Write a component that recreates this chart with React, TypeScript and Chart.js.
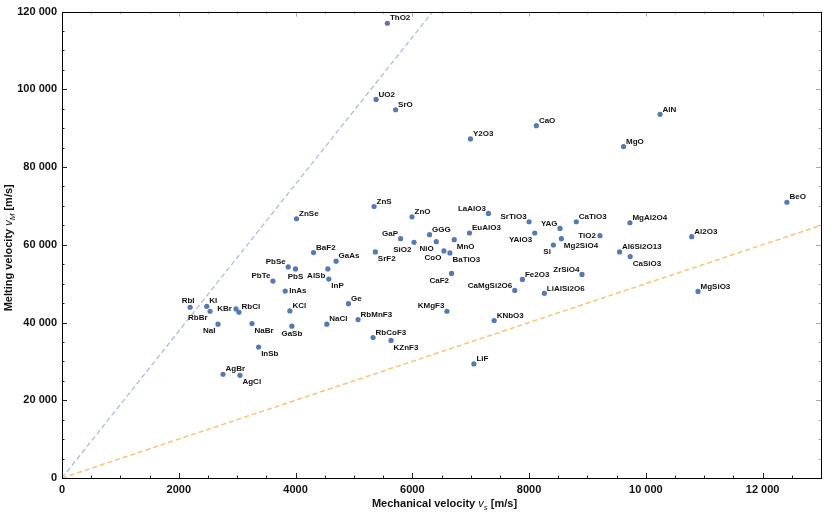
import { useEffect, useRef } from 'react';
import { Chart, registerables } from 'chart.js';
Chart.register(...registerables);

const names = ['ThO2','UO2','SrO','Y2O3','CaO','MgO','AlN','BeO','ZnSe','ZnS','ZnO','LaAlO3','SrTiO3','CaTiO3','MgAl2O4','YAG','EuAlO3','YAlO3','GGG','TiO2','Al2O3','GaP','Mg2SiO4','MnO','NiO','SiO2','Si','CoO','SrF2','Al6Si2O13','BaF2','BaTiO3','CaSiO3','GaAs','PbSe','PbS','AlSb','CaF2','ZrSiO4','InP','Fe2O3','PbTe','CaMgSi2O6','InAs','MgSiO3','LiAlSi2O6','Ge','KI','RbI','KBr','KCl','RbBr','KMgF3','RbCl','RbMnF3','KNbO3','NaBr','NaI','NaCl','GaSb','RbCoF3','KZnF3','InSb','LiF','AgBr','AgCl'];
const vs = [5573,5379,5714,6996,8125,9618,10244,12416,4017,5345,5995,7304,8000,8809,9727,8530,6980,8097,6296,9214,10786,5800,8553,6718,6410,6029,8416,6541,5367,9550,4308,6644,9732,4695,3875,4000,4553,6672,8906,4570,7886,3613,7755,3823,10894,8262,4906,2479,2194,2980,3903,2536,6593,3031,5071,7402,3254,2672,4536,3937,5328,5636,3368,7055,2758,3048];
const vm = [117000,97400,94750,87250,90650,85280,93570,70950,66700,69850,67200,68060,65930,65930,65670,64220,63030,63030,62600,62350,62090,61580,61580,61330,60800,60640,59950,58420,58160,58160,58000,57910,56980,55780,54320,53800,53800,52630,52370,51170,51090,50660,48270,48100,48000,47510,44850,44180,43930,43500,42980,42900,42900,42650,40760,40500,39740,39580,39580,39060,36150,35390,33700,29350,26690,26430];
const labelPos = ['ur','ur','ur','ur','ur','ur','ur','ur','ur','ur','ur','ul','ul','ur','ur','ul','ur','dl','ur','l','ur','ul','dr','dr','dl','dl','dl','dl','dr','ur','ur','dr','dr','ur','ul','b','dl','dl','ul','dr','ur','ul','ul','r','ur','ur','ur','ur','t','l','ur','dl','ul','ur','ur','ur','dr','dl','ur','b','ur','dr','dr','ur','ur','dr'];

const xTickValues = [0, 2000, 4000, 6000, 8000, 10000, 12000];
const yTickValues = [0, 20000, 40000, 60000, 80000, 100000, 120000];

const blueSlope = 18.9;
const orangeSlope = 5;
const xMax = 13000;
const yMax = 120000;
const xMajor = 2000;
const xMinor = 500;
const yMajor = 20000;
const yMinor = 5000;

function fmt(v: number): string {
  if (v >= 10000) {
    const s = String(v);
    return s.slice(0, s.length - 3) + ' ' + s.slice(s.length - 3);
  }
  return String(v);
}

const FONT = "'Liberation Sans', Arial, sans-serif";

const labelPlugin = {
  id: 'pointLabels',
  afterDatasetsDraw(chart: any) {
    const ctx = chart.ctx;
    const meta = chart.getDatasetMeta(0);
    ctx.save();
    ctx.font = `bold 8px ${FONT}`;
    ctx.fillStyle = '#111';
    meta.data.forEach((el: any, i: number) => {
      const x = el.x, y = el.y;
      const p = labelPos[i];
      const t = names[i];
      ctx.textBaseline = 'middle';
      if (p === 'ur') { ctx.textAlign = 'left'; ctx.fillText(t, x + 2.5, y - 5); }
      else if (p === 'ul') { ctx.textAlign = 'right'; ctx.fillText(t, x - 2.5, y - 5); }
      else if (p === 'dr') { ctx.textAlign = 'left'; ctx.fillText(t, x + 2.5, y + 7); }
      else if (p === 'dl') { ctx.textAlign = 'right'; ctx.fillText(t, x - 2.5, y + 7); }
      else if (p === 'l') { ctx.textAlign = 'right'; ctx.fillText(t, x - 4, y); }
      else if (p === 'r') { ctx.textAlign = 'left'; ctx.fillText(t, x + 4, y); }
      else if (p === 'b') { ctx.textAlign = 'center'; ctx.fillText(t, x, y + 8); }
      else if (p === 't') { ctx.textAlign = 'center'; ctx.fillText(t, x - 2, y - 6); }
    });
    ctx.restore();
  },
};

const framePlugin = {
  id: 'frame',
  afterDraw(chart: any) {
    const ctx = chart.ctx;
    const { left, right, top, bottom } = chart.chartArea;
    const xs = chart.scales.x, ys = chart.scales.y;
    ctx.save();
    ctx.lineWidth = 1;
    for (let v = 0; v <= xMax; v += xMinor) {
      const px = Math.round(xs.getPixelForValue(v)) + 0.5;
      const len = v % xMajor === 0 ? 5 : 2.5;
      ctx.strokeStyle = '#222';
      ctx.beginPath(); ctx.moveTo(px, bottom); ctx.lineTo(px, bottom - len); ctx.stroke();
      ctx.strokeStyle = '#aaa';
      ctx.beginPath(); ctx.moveTo(px, top); ctx.lineTo(px, top + len); ctx.stroke();
    }
    for (let v = 0; v <= yMax; v += yMinor) {
      const py = Math.round(ys.getPixelForValue(v)) + 0.5;
      const len = v % yMajor === 0 ? 5 : 2.5;
      ctx.strokeStyle = '#222';
      ctx.beginPath(); ctx.moveTo(left, py); ctx.lineTo(left + len, py); ctx.stroke();
      ctx.strokeStyle = '#aaa';
      ctx.beginPath(); ctx.moveTo(right, py); ctx.lineTo(right - len, py); ctx.stroke();
    }
    ctx.strokeStyle = '#000';
    ctx.strokeRect(Math.round(left) + 0.5, Math.round(top) + 0.5, Math.round(right - left), Math.round(bottom - top));

    ctx.fillStyle = '#111';
    ctx.textBaseline = 'alphabetic';
    const drawTitle = (parts: { t: string; f: string; dy: number }[], cx: number, cy: number) => {
      let w = 0;
      parts.forEach((p) => { ctx.font = p.f; w += ctx.measureText(p.t).width; });
      let x = cx - w / 2;
      ctx.textAlign = 'left';
      parts.forEach((p) => { ctx.font = p.f; ctx.fillText(p.t, x, cy + p.dy); x += ctx.measureText(p.t).width; });
    };
    const normal = `bold 11px ${FONT}`;
    const ital = `italic 11px ${FONT}`;
    const sub = `italic 8px ${FONT}`;
    drawTitle([
      { t: 'Mechanical velocity ', f: normal, dy: 0 },
      { t: 'v', f: ital, dy: 0 },
      { t: 's', f: sub, dy: 2.5 },
      { t: ' [m/s]', f: normal, dy: 0 },
    ], (left + right) / 2 + 3, 507);
    ctx.save();
    ctx.translate(12, (top + bottom) / 2 + 3);
    ctx.rotate(-Math.PI / 2);
    drawTitle([
      { t: 'Melting velocity ', f: normal, dy: 0 },
      { t: 'v', f: ital, dy: 0 },
      { t: 'M', f: sub, dy: 2.5 },
      { t: ' [m/s]', f: normal, dy: 0 },
    ], 0, 0);
    ctx.restore();
    ctx.restore();
  },
};

export default function App() {
  const ref = useRef<HTMLCanvasElement | null>(null);
  useEffect(() => {
    if (!ref.current) return;
    const points = vs.map((x, i) => ({ x, y: vm[i] }));
    const blueEnd = yMax / blueSlope;
    const chart = new Chart(ref.current, {
      type: 'scatter',
      data: {
        datasets: [
          {
            data: points,
            backgroundColor: '#5479b3',
            borderWidth: 0,
            pointRadius: 2.6,
          },
          {
            data: [{ x: 0, y: 0 }, { x: blueEnd, y: blueEnd * blueSlope }],
            showLine: true,
            borderColor: '#aec2e2',
            borderWidth: 1.4,
            borderDash: [5, 3],
            pointRadius: 0,
          },
          {
            data: [{ x: 0, y: 0 }, { x: xMax, y: xMax * orangeSlope }],
            showLine: true,
            borderColor: '#f5c87e',
            borderWidth: 1.6,
            borderDash: [5, 3],
            pointRadius: 0,
          },
        ],
      },
      options: {
        responsive: false,
        animation: false,
        layout: { padding: { top: 9, right: 9, left: 0, bottom: 0 } },
        plugins: { legend: { display: false }, tooltip: { enabled: false } },
        scales: {
          x: {
            type: 'linear',
            min: 0,
            max: xMax,
            afterFit: (s: any) => { s.height = 36; },
            afterBuildTicks: (s: any) => { s.ticks = xTickValues.map((v) => ({ value: v })); },
            border: { display: false },
            grid: { display: false, drawTicks: false },
            ticks: {
              autoSkip: false,
              maxRotation: 0,
              minRotation: 0,
              padding: 5,
              color: '#111',
              font: { family: FONT, size: 11, weight: 'bold' },
              callback: (v: any) => fmt(Number(v)),
            },
          },
          y: {
            type: 'linear',
            min: 0,
            max: yMax,
            afterFit: (s: any) => { s.width = 62; },
            afterBuildTicks: (s: any) => { s.ticks = yTickValues.map((v) => ({ value: v })); },
            border: { display: false },
            grid: { display: false, drawTicks: false },
            ticks: {
              autoSkip: false,
              padding: 5,
              color: '#111',
              font: { family: FONT, size: 11, weight: 'bold' },
              callback: (v: any) => fmt(Number(v)),
            },
          },
        },
      },
      plugins: [labelPlugin, framePlugin],
    } as any);
    return () => chart.destroy();
  }, []);
  return (
    <div style={{ position: 'fixed', left: 0, top: 0, width: 830, height: 514, background: '#fff' }}>
      <canvas ref={ref} width={830} height={514} />
    </div>
  );
}
